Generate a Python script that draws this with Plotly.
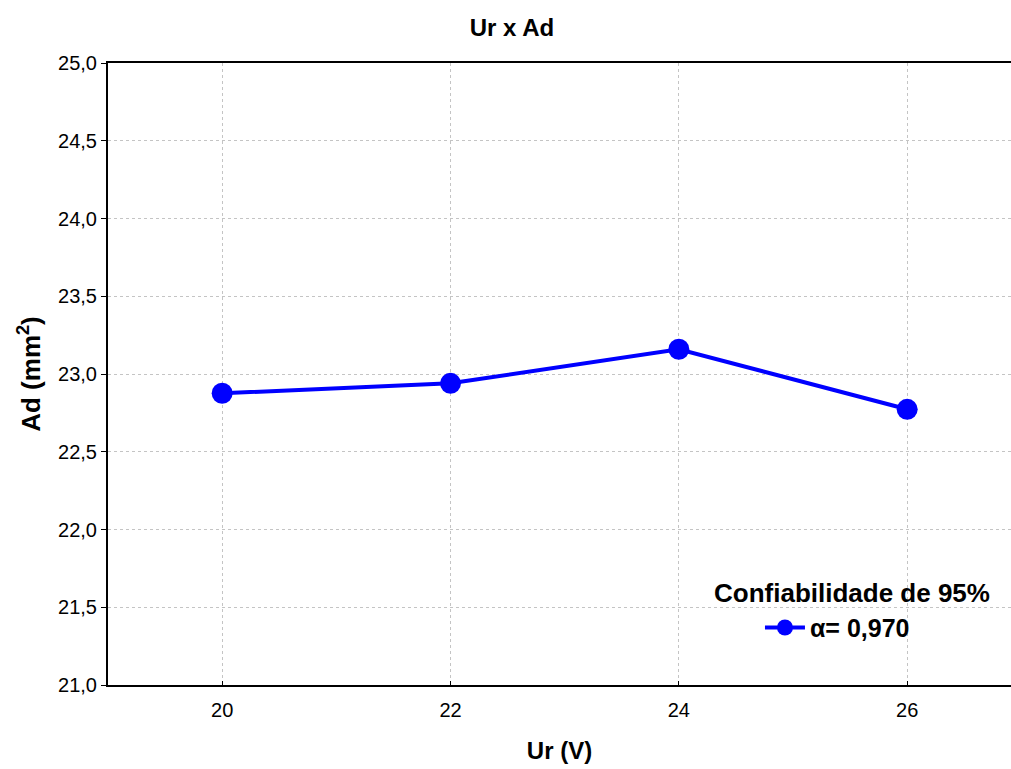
import plotly.graph_objects as go

# Ur (V) against Ad (mm²)
ur_volts = [20, 22, 24, 26]
ad_mm2 = [22.876, 22.94, 23.159, 22.773]
x_ticks = [20, 22, 24, 26]
y_ticks = [21.0, 21.5, 22.0, 22.5, 23.0, 23.5, 24.0, 24.5, 25.0]

FONT = "Arial, 'Liberation Sans', sans-serif"
BLUE = "#0000ff"

fig = go.Figure()
fig.add_trace(go.Scatter(
    x=ur_volts, y=ad_mm2,
    mode="lines+markers",
    name="<b>α= 0,970</b>",
    line=dict(color=BLUE, width=4),
    marker=dict(color=BLUE, size=21),
))

fig.update_layout(
    width=1011, height=769,
    margin=dict(l=108, r=0, t=63, b=84),
    paper_bgcolor="white", plot_bgcolor="white",
    separators=",.",
    font=dict(family=FONT, color="black", size=20),
    title=dict(text="<b>Ur x Ad</b>", xref="container", yref="container",
               x=512 / 1011, y=1 - 28 / 769, xanchor="center", yanchor="middle",
               font=dict(size=24, family=FONT)),
    showlegend=True,
    legend=dict(x=0.722, y=0.092, xanchor="left", yanchor="middle",
                bgcolor="rgba(0,0,0,0)", font=dict(size=25, family=FONT),
                itemwidth=40, tracegroupgap=0),
    annotations=[dict(text="<b>Confiabilidade de 95%</b>", xref="paper", yref="paper",
                      x=0.824, y=0.148, xanchor="center", yanchor="middle",
                      showarrow=False, font=dict(size=26, family=FONT))],
)

fig.update_xaxes(
    range=[19, 19 + 903 / 114.17],
    tickvals=x_ticks, ticktext=[str(v) for v in x_ticks],
    showline=True, linecolor="black", linewidth=2, mirror=True,
    ticks="inside", ticklen=4, tickcolor="black",
    showgrid=True, gridcolor="#c4c4c4", griddash="dot", gridwidth=1,
    zeroline=False, ticklabelstandoff=6,
    title=dict(text="<b>Ur (V)</b>", font=dict(size=24, family=FONT), standoff=22),
)
fig.update_yaxes(
    range=[21, 25],
    tickvals=y_ticks, tickformat=".1f",
    showline=True, linecolor="black", linewidth=2, mirror=False,
    ticks="outside", ticklen=5, tickcolor="black",
    showgrid=True, gridcolor="#c4c4c4", griddash="dot", gridwidth=1,
    zeroline=False,
    title=dict(text="<b>Ad (mm<sup>2</sup>)</b>", font=dict(size=26, family=FONT), standoff=10),
)

fig.write_html("out.html")
